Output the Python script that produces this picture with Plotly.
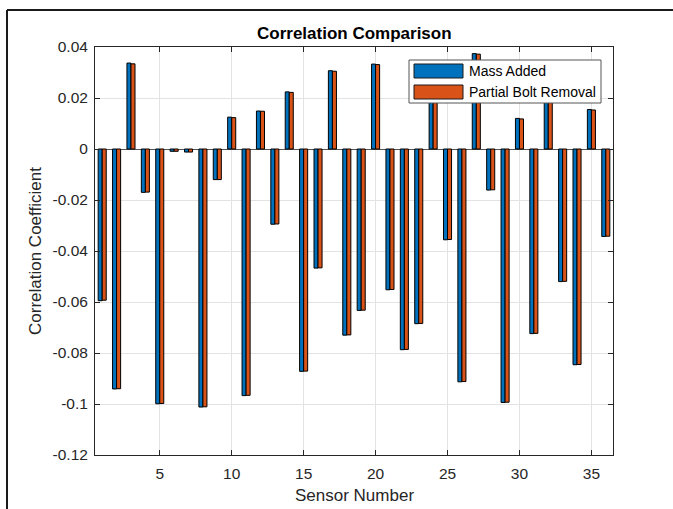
import plotly.graph_objects as go

# ---------------- data ----------------
sensors = list(range(1, 37))
mass_added = [-0.0595, -0.0941, 0.0337, -0.0170, -0.0999, -0.0009, -0.0012, -0.1012,
              -0.0120, 0.0125, -0.0967, 0.0149, -0.0295, 0.0224, -0.0872, -0.0467,
              0.0307, -0.0730, -0.0633, 0.0333, -0.0552, -0.0787, -0.0685, 0.0260,
              -0.0356, -0.0913, 0.0374, -0.0161, -0.0994, 0.0120, -0.0724, 0.0240,
              -0.0520, -0.0846, 0.0155, -0.0343]
partial_bolt = [-0.0593, -0.0940, 0.0334, -0.0169, -0.0998, -0.0009, -0.0012, -0.1011,
                -0.0120, 0.0123, -0.0966, 0.0148, -0.0294, 0.0222, -0.0871, -0.0466,
                0.0305, -0.0729, -0.0632, 0.0331, -0.0551, -0.0786, -0.0684, 0.0258,
                -0.0355, -0.0912, 0.0372, -0.0160, -0.0993, 0.0118, -0.0723, 0.0238,
                -0.0519, -0.0845, 0.0153, -0.0342]
series_names = ["Mass Added", "Partial Bolt Removal"]
x_tickvals = [5, 10, 15, 20, 25, 30, 35]
y_tickvals = [0.04, 0.02, 0, -0.02, -0.04, -0.06, -0.08, -0.1, -0.12]
y_ticktext = ["0.04", "0.02", "0", "-0.02", "-0.04", "-0.06", "-0.08", "-0.1", "-0.12"]

# ---------------- layout geometry (pixels) ----------------
W, H = 673, 509
L, R, T, B = 95, 60, 47, 54
PW, PH = W - L - R, H - T - B

def px(x):
    return (x - L) / PW

def py(y):
    return (H - B - y) / PH

BLUE = "#0072BD"
ORANGE = "#D95319"
FONT = "Liberation Sans, Arial, Helvetica, sans-serif"
AX = "#262626"

fig = go.Figure()
for name, vals, col in [(series_names[0], mass_added, BLUE),
                        (series_names[1], partial_bolt, ORANGE)]:
    fig.add_trace(go.Bar(x=sensors, y=vals, name=name, marker_color=col,
                         marker_line_color="black", marker_line_width=1,
                         showlegend=False))

shapes = []
# outer frame (top and left only)
shapes.append(dict(type="line", xref="paper", yref="paper",
                   x0=px(7), x1=px(W + 2), y0=py(10), y1=py(10),
                   line=dict(color="#1a1a1a", width=2)))
shapes.append(dict(type="line", xref="paper", yref="paper",
                   x0=px(7), x1=px(7), y0=py(10), y1=py(H + 2),
                   line=dict(color="#1a1a1a", width=2)))
# legend box
shapes.append(dict(type="rect", xref="paper", yref="paper",
                   x0=px(409), x1=px(601), y0=py(60), y1=py(103),
                   fillcolor="white", line=dict(color="#555555", width=1), layer="above"))
shapes.append(dict(type="rect", xref="paper", yref="paper",
                   x0=px(414), x1=px(463), y0=py(64), y1=py(78),
                   fillcolor=BLUE, line=dict(color="#1a1a1a", width=1), layer="above"))
shapes.append(dict(type="rect", xref="paper", yref="paper",
                   x0=px(414), x1=px(463), y0=py(85), y1=py(99),
                   fillcolor=ORANGE, line=dict(color="#1a1a1a", width=1), layer="above"))

annotations = [
    dict(text=series_names[0], xref="paper", yref="paper", x=px(467), y=py(71),
         xanchor="left", yanchor="middle", showarrow=False,
         font=dict(family=FONT, size=14, color="black")),
    dict(text=series_names[1], xref="paper", yref="paper", x=px(467), y=py(92),
         xanchor="left", yanchor="middle", showarrow=False,
         font=dict(family=FONT, size=14, color="black")),
    dict(text="<b>Correlation Comparison</b>", xref="paper", yref="paper", x=0.5, y=py(34),
         xanchor="center", yanchor="middle", showarrow=False,
         font=dict(family=FONT, size=17, color="black")),
    dict(text="Sensor Number", xref="paper", yref="paper", x=0.5, y=py(495),
         xanchor="center", yanchor="middle", showarrow=False,
         font=dict(family=FONT, size=17, color=AX)),
    dict(text="Correlation Coefficient", xref="paper", yref="paper", x=px(35), y=0.5,
         xanchor="center", yanchor="middle", showarrow=False, textangle=-90,
         font=dict(family=FONT, size=17, color=AX)),
]

fig.update_layout(
    width=W, height=H,
    margin=dict(l=L, r=R, t=T, b=B),
    paper_bgcolor="white", plot_bgcolor="white",
    barmode="group", bargap=0.44, bargroupgap=0,
    font=dict(family=FONT, size=15.5, color=AX),
    shapes=shapes, annotations=annotations,
)
fig.update_xaxes(range=[0.5, 36.5], tickvals=x_tickvals, ticks="inside", ticklen=5,
                 tickcolor=AX, showline=True, linecolor=AX, linewidth=1, mirror="ticks",
                 showgrid=True, gridcolor="#e3e3e3", gridwidth=1, zeroline=False,
                 ticklabelstandoff=4,
                 tickfont=dict(family=FONT, size=15.5, color=AX))
fig.update_yaxes(range=[-0.12, 0.04], tickvals=y_tickvals, ticktext=y_ticktext,
                 ticks="inside", ticklen=5, tickcolor=AX, showline=True, linecolor=AX,
                 linewidth=1, mirror="ticks", showgrid=True, gridcolor="#e3e3e3",
                 gridwidth=1, zeroline=True, zerolinecolor="#555555", zerolinewidth=1,
                 ticklabelstandoff=3,
                 tickfont=dict(family=FONT, size=15.5, color=AX))

fig.write_html("out.html")
